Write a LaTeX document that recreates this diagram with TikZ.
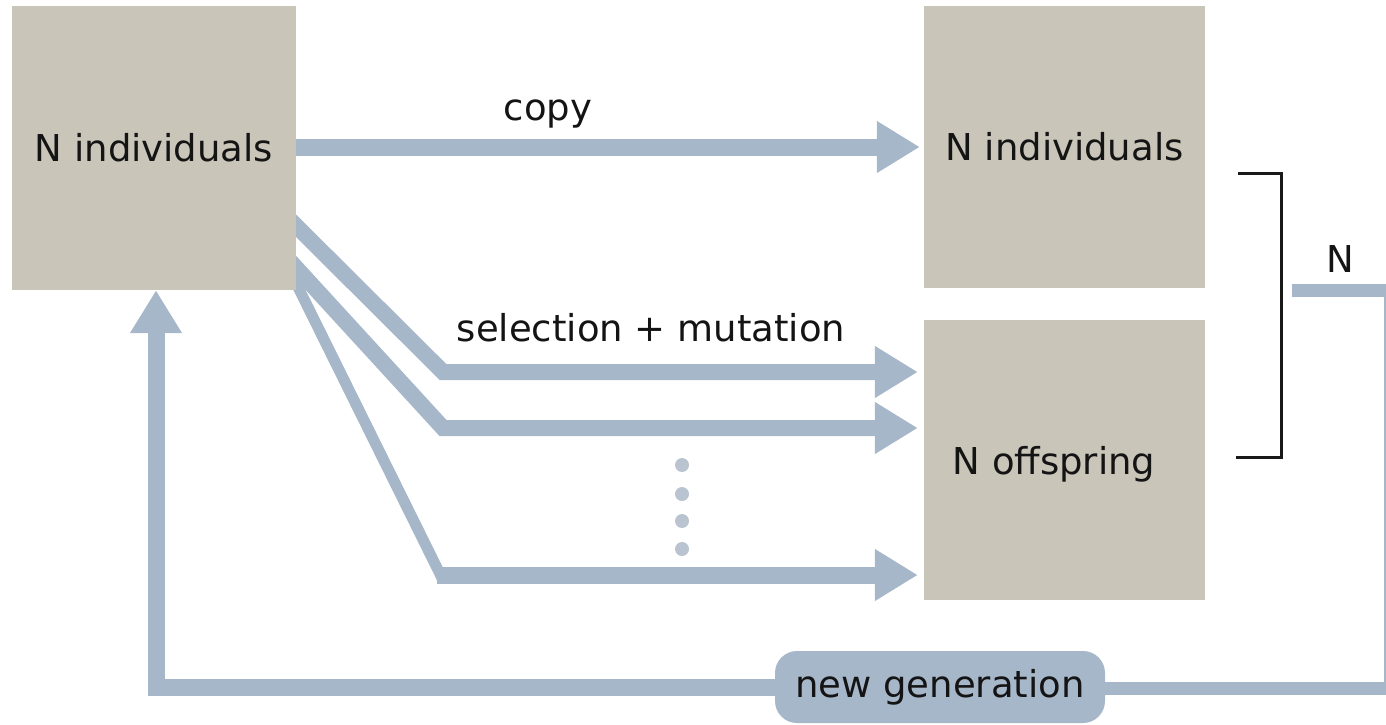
\documentclass[tikz,border=0pt]{standalone}
\usepackage{fontspec}
\setmainfont{DejaVu Sans}
\usetikzlibrary{arrows.meta,backgrounds,calc}
\definecolor{boxfill}{HTML}{C9C5B9}
\definecolor{flow}{HTML}{A7B7CA}
\definecolor{dotcol}{HTML}{BAC4D0}
\begin{document}
\begin{tikzpicture}[x=1pt,y=-1pt,
  txt/.style={font=\fontsize{37}{44}\selectfont, text=black!92, inner sep=0pt},
  pop/.style={txt, fill=boxfill, draw=none},
  flowline/.style={draw=flow, line width=17pt, line join=miter},
  bigtip/.style={-{Triangle[width=49pt,length=43pt]}},
  pill/.style={txt, fill=flow, rounded corners=22pt, minimum width=330pt, minimum height=72pt}]
\useasboundingbox (0,0) rectangle (1386,724);
\clip (0,0) rectangle (1386,724);

% populations
\node[pop, minimum width=284pt, minimum height=284pt] (src) at (154,148) {N individuals};
\node[pop, minimum width=281pt, minimum height=282pt] (kept) at (1064.5,147) {N individuals};
\node[pop, minimum width=281pt, minimum height=280pt, text depth=0pt] (kids) at (1064.5,460) {N offspring\hspace*{21pt}};

% labels
\node[txt, anchor=base] (copylbl) at (548,120) {copy};
\node[txt, anchor=base] (sellbl) at (651,341) {selection + mutation};
\node[txt, anchor=base] (nlbl) at (1340,272) {N};

% copy arrow
\draw[flowline, bigtip] (src.east |- 0,147) -- ([xshift=-4pt]kept.west);

% selection + mutation arrows, starting behind the source box
\begin{pgfonlayer}{background}
\draw[flowline, line width=16pt, bigtip] ($(src.east)+(-20,58)$) -- (443,372) -- ([xshift=-6pt]kids.west |- 0,372);
\draw[flowline, line width=16pt, bigtip] ($(src.east)+(-20,98)$) -- (443,428) -- ([xshift=-6pt]kids.west |- 0,428);
\draw[flowline, line width=11pt] ($(src.east)+(-19,97)$) -- (442,578);
\draw[flowline, bigtip] (437,575) -- ([xshift=-6pt]kids.west |- 0,575);
\end{pgfonlayer}

% ellipsis dots
\foreach \yy in {465,494,521,549}
  \fill[dotcol] (682,\yy) circle (7pt);

% bracket joining the two groups of N
\coordinate (btop) at ([xshift=33pt]kept.east |- 0,173);
\coordinate (bbot) at ([xshift=31pt]kids.east |- 0,457);
\draw[line width=3pt, black!90] (btop) -- (1281,173) -- (1281,457) -- (bbot);

% feedback loop: new generation
\node[pill] (newgen) at (940,687) {new generation};
\coordinate (tap) at (1292,290);
\draw[flow, line width=13pt, line join=miter] (tap) -- (1390,290) -- (1390,688) -- (newgen.east |- 0,688);
\draw[flowline, bigtip] (newgen.west) -| ([xshift=2pt]src.south);
\end{tikzpicture}
\end{document}
